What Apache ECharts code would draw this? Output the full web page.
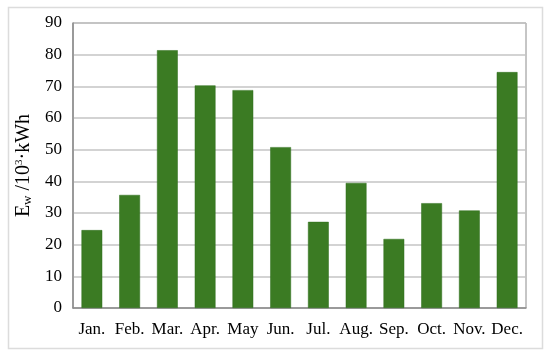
<!DOCTYPE html>
<html><head><meta charset="utf-8">
<script src="https://cdn.jsdelivr.net/npm/echarts@6/dist/echarts.min.js"></script>
<style>html,body{margin:0;padding:0;background:#fff}#c{width:550px;height:355px}</style>
</head><body><div id="c"></div>
<script>
const categories = ['Jan.','Feb.','Mar.','Apr.','May','Jun.','Jul.','Aug.','Sep.','Oct.','Nov.','Dec.'];
const values = [24.6, 35.7, 81.4, 70.3, 68.8, 50.8, 27.2, 39.5, 21.8, 33.1, 30.8, 74.5];
const yTicks = [0, 90, 10];

const chart = echarts.init(document.getElementById('c'));
const font = '"Liberation Serif", "Times New Roman", serif';
chart.setOption({
  animation: false,
  textStyle: {fontFamily: font},
  graphic: [{
    type: 'rect', shape: {x: 8.5, y: 7.5, width: 534, height: 341},
    style: {fill: 'none', stroke: '#dcdcdc', lineWidth: 1.5}, z: -1
  }],
  grid: {left: 73, right: 24, top: 23, bottom: 47, show: true, borderColor: '#8c8c8c', borderWidth: 1},
  xAxis: {
    type: 'category', data: categories,
    axisLine: {lineStyle: {color: '#8c8c8c', width: 1.5}},
    axisTick: {show: false},
    axisLabel: {color: '#000', fontSize: 17, fontFamily: font, margin: 13, interval: 0}
  },
  yAxis: {
    type: 'value', min: yTicks[0], max: yTicks[1], interval: yTicks[2],
    name: '{a|E}{s|w}{a| /10}{p|3}{a|·kWh}',
    nameLocation: 'middle', nameRotate: 90, nameGap: 38,
    nameTextStyle: {
      rich: {
        a: {fontSize: 20, fontFamily: font, color: '#000'},
        s: {fontSize: 13, fontFamily: font, color: '#000', verticalAlign: 'bottom', padding: [7, 0, 0, 0]},
        p: {fontSize: 11, fontFamily: font, color: '#000', verticalAlign: 'top', padding: [0, 0, 7, 0]}
      }
    },
    axisLine: {show: true, lineStyle: {color: '#8c8c8c', width: 1.5}},
    axisTick: {show: false},
    splitLine: {lineStyle: {color: '#c4c4c4', width: 1.5}},
    axisLabel: {color: '#000', fontSize: 17, fontFamily: font, margin: 11}
  },
  series: [{
    type: 'bar', data: values, barWidth: '55%',
    itemStyle: {color: '#3b7b23', borderColor: '#2f6e1c', borderWidth: 0.5}
  }]
});
</script></body></html>
